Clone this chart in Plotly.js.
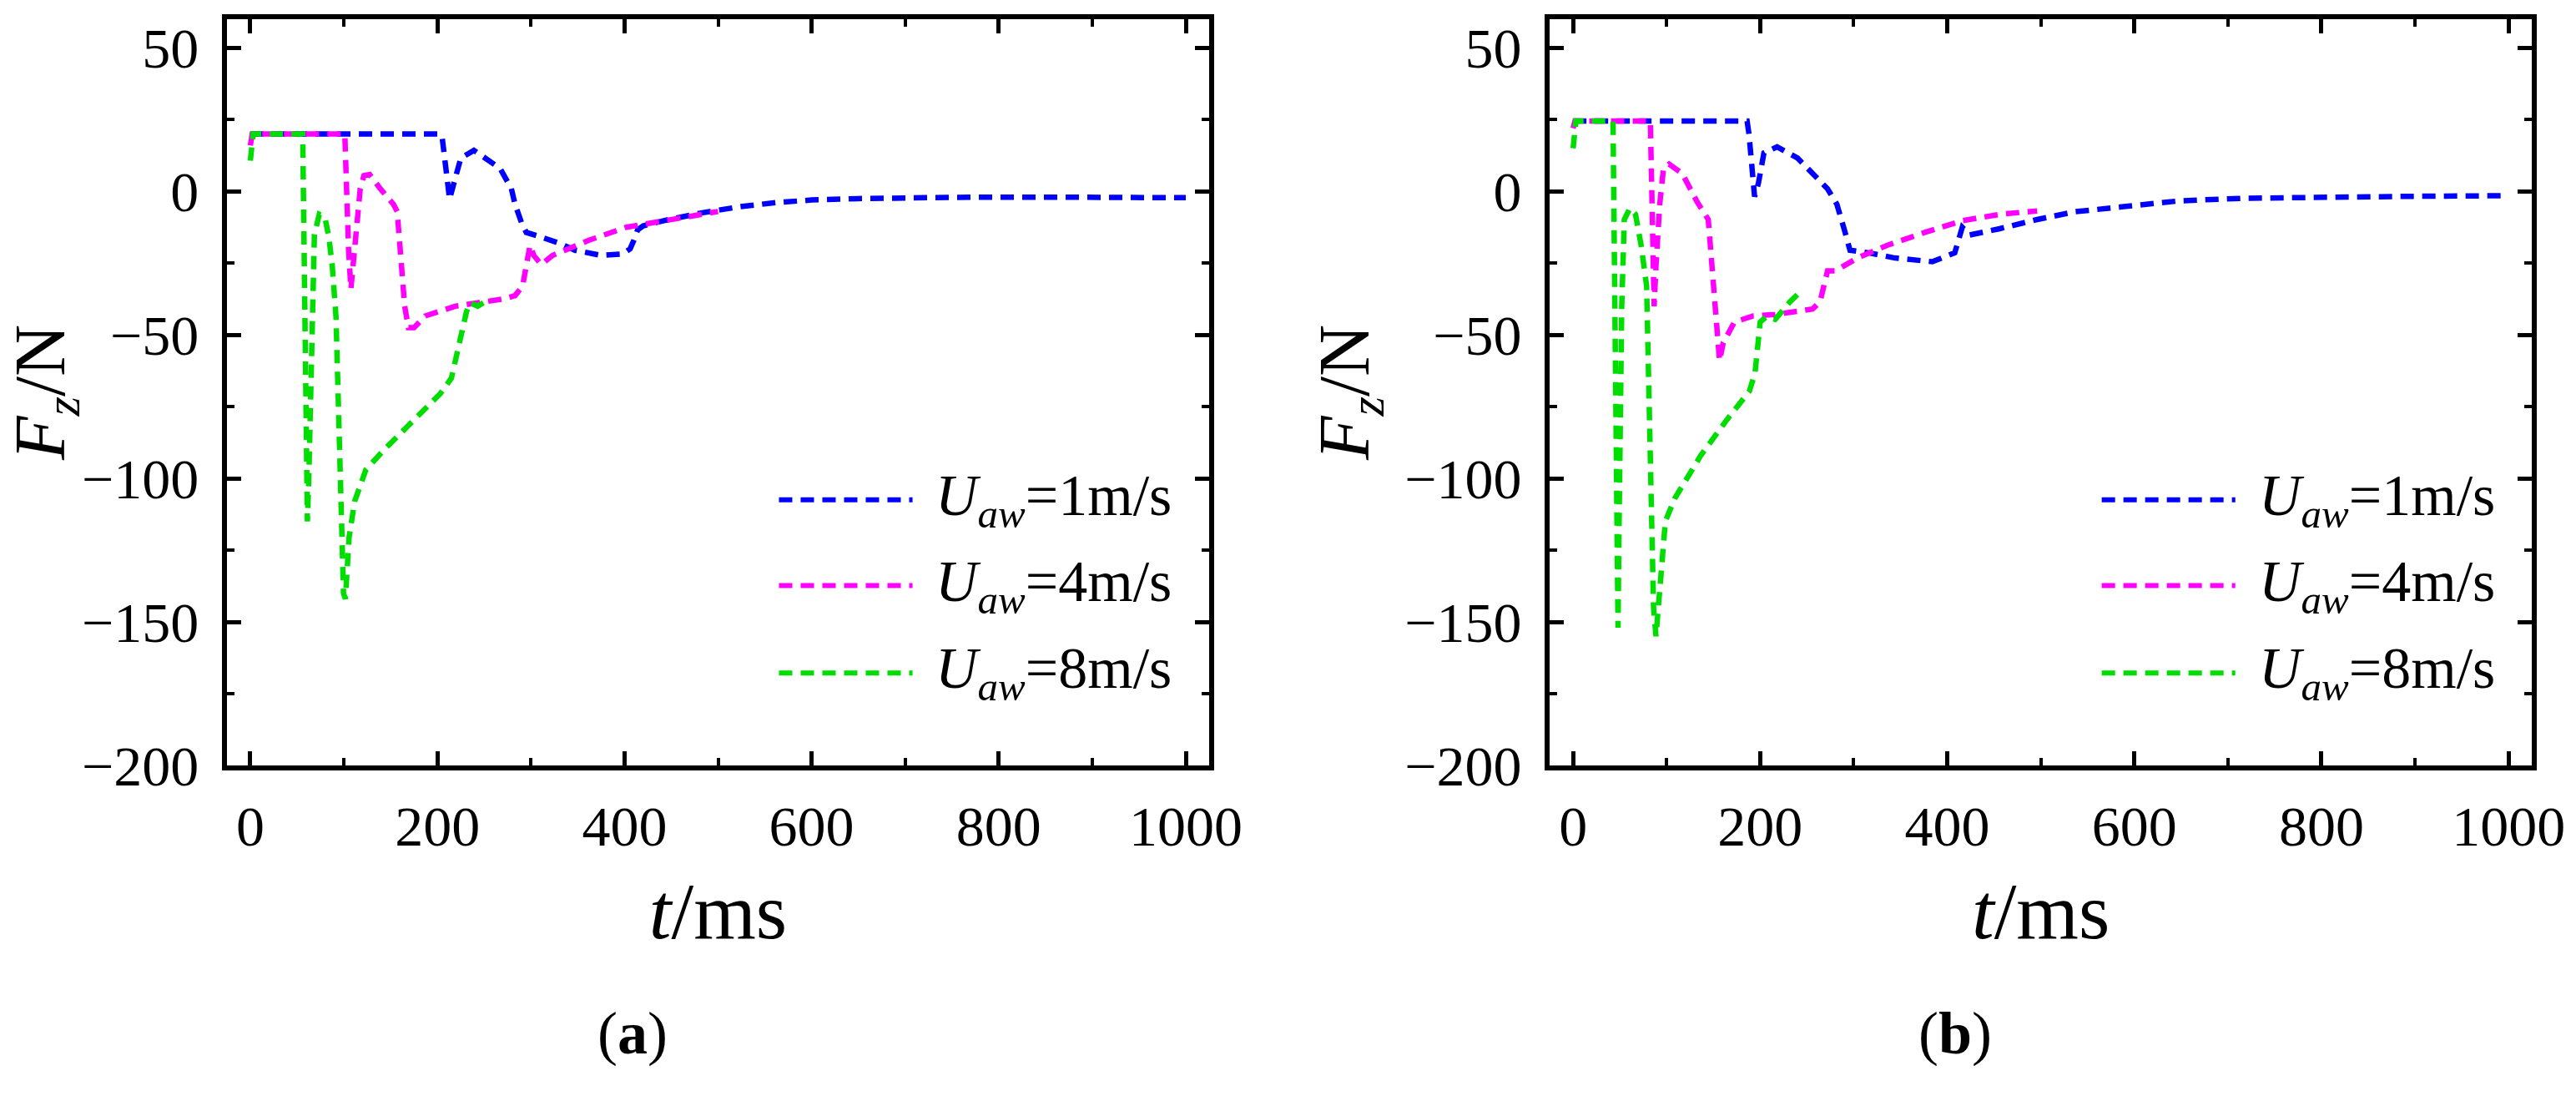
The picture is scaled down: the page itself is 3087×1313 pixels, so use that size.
<!DOCTYPE html>
<html>
<head>
<meta charset="utf-8">
<script src="https://cdn.plot.ly/plotly-3.0.1.min.js"></script>
<style>html,body{margin:0;padding:0;background:#fff;}#chart{width:3087px;height:1313px;}</style>
</head>
<body>
<div id="chart"></div>
<script>
// ---------- data ----------
const seriesNames = ['<i>U</i><sub><i>aw</i></sub>=1m/s', '<i>U</i><sub><i>aw</i></sub>=4m/s', '<i>U</i><sub><i>aw</i></sub>=8m/s'];
const seriesColors = ['#0000ff', '#ff00ff', '#00dd00'];
const panelLabels = ['(<b>a</b>)', '(<b>b</b>)'];
const xTitle = '<i>t</i>/ms';
const yTitle = '<i>F</i><sub><i>z</i></sub>/N';

// panel (a)
const tA1 = [0, 203, 205, 207, 211, 213, 219, 225, 239, 255, 267, 279, 283, 290, 295, 307, 330, 347, 375, 398, 406, 410, 414, 420, 442, 482, 522, 562, 600, 650, 700, 774, 850, 1000];
const fA1 = [20, 20, 19, 13, 2, -2.7, 4.5, 11.6, 14.3, 11, 8, 1, -4.5, -11, -14.3, -15.5, -18, -20.5, -22.3, -21.8, -20, -17, -13.4, -12, -10.2, -7.5, -5.4, -3.9, -3, -2.5, -2.2, -2, -2, -2.2];
const tA4 = [0, 2, 101, 103, 105, 107.5, 109.5, 113.5, 117.5, 121.5, 127.5, 139, 153, 157, 161, 165, 169, 175, 187, 219, 243, 270, 283, 291, 299, 303, 311, 323, 343, 362, 402, 442, 478, 500];
const fA4 = [16, 20, 20, -5, -20, -34, -26, -12, 1, 5.5, 5.9, 0.9, -4.5, -7, -22, -40, -47.5, -47.5, -43.4, -40, -38.8, -37.5, -36.3, -33, -18.8, -22.3, -25.5, -22.3, -19.6, -17, -12.5, -10.2, -8, -7];
const tA8 = [0, 3, 56, 58, 60, 61, 62.5, 64, 66, 68.5, 73.7, 79.7, 84, 87.6, 91.6, 95.6, 99.6, 101.6, 105.6, 111.5, 123.5, 143, 171, 203, 215, 225, 231, 235, 243, 251];
const fA8 = [10.7, 20, 20, -40, -90, -115, -100, -76, -40, -15, -8, -9, -16, -26, -43.8, -84.8, -140, -142, -120.5, -108, -97, -90, -81, -70.5, -65, -51, -42, -38.8, -40, -38.4];

// panel (b)
const tB1 = [0, 186, 188, 190, 194, 198, 204, 218, 240, 272, 282, 290, 296, 316, 344, 384, 408, 416, 424, 456, 496, 536, 576, 603, 648, 715, 815, 900, 1000];
const fB1 = [24.5, 24.5, 20, 13, -1.8, 2.7, 13.4, 15.5, 11.6, 0.9, -4.5, -13.4, -20.5, -21.4, -23.2, -24.5, -21.4, -12.5, -15.2, -13, -9.8, -7.1, -5.9, -5, -3.3, -2.4, -1.9, -1.7, -1.5];
const tB4 = [0, 2, 82.6, 84.6, 86.6, 88.6, 92.6, 96.6, 102.6, 116.6, 132.5, 144.5, 150.5, 154.5, 156.5, 160.5, 172.5, 192.5, 216, 256, 264, 272, 280, 304, 336, 376, 416, 456, 496];
const fB4 = [22, 24.5, 24.5, -13.4, -40, -26, -4.5, 8, 9.5, 6.25, -3.6, -9.8, -33, -51, -59, -52.7, -45.5, -43.4, -42.9, -41, -38.4, -27.7, -27.7, -23.2, -18.75, -14.3, -10.2, -8, -6.8];
const tB8 = [0, 3, 42.7, 44, 45.5, 47, 48, 49, 50, 52, 54.7, 60.7, 66.7, 72.7, 78.6, 80, 81.4, 83.8, 86, 88.6, 92.6, 98.6, 108.6, 136.5, 164.5, 188.4, 194.4, 200, 206, 216, 232, 246];
const fB8 = [15, 24.5, 24.5, -20, -58, -110, -152, -120, -94, -40, -9.8, -5.9, -8, -18.75, -33, -55, -76, -120.5, -145, -155, -138, -115, -107, -92, -79.5, -69.6, -63.4, -45.5, -43.8, -44.6, -38.4, -34];

// ---------- build ----------
const panels = [
  {xa: 'x', ya: 'y', series: [[tA1, fA1], [tA4, fA4], [tA8, fA8]]},
  {xa: 'x2', ya: 'y2', series: [[tB1, fB1], [tB4, fB4], [tB8, fB8]]}
];
const DASH = '16px,10px';
const FONT = 'Liberation Serif, Times New Roman, serif';

const traces = [];
panels.forEach(p => {
  p.series.forEach((s, i) => {
    traces.push({
      type: 'scatter', mode: 'lines', x: s[0], y: s[1],
      xaxis: p.xa, yaxis: p.ya, name: seriesNames[i], showlegend: false,
      line: {color: seriesColors[i], width: 6.5, dash: DASH}
    });
  });
});

function xAxis(domain, anchor) {
  return {
    domain: domain, anchor: anchor, range: [-25, 1025], tick0: 0, dtick: 200,
    ticks: 'inside', ticklen: 17, tickwidth: 5, tickcolor: '#000',
    minor: {dtick: 100, ticks: 'inside', ticklen: 9, tickwidth: 4, tickcolor: '#000'},
    showline: true, linewidth: 6, linecolor: '#000', mirror: 'allticks',
    showgrid: false, zeroline: false, automargin: false,
    tickfont: {family: FONT, size: 68, color: '#000'}, ticklabelstandoff: 8,
    title: {text: xTitle, font: {family: FONT, size: 96, color: '#000'}, standoff: 32}
  };
}
function yAxis(domain, anchor) {
  return {
    domain: domain, anchor: anchor, range: [-200, 60], tick0: 0, dtick: 50,
    ticks: 'inside', ticklen: 17, tickwidth: 5, tickcolor: '#000',
    minor: {dtick: 25, ticks: 'inside', ticklen: 9, tickwidth: 4, tickcolor: '#000'},
    showline: true, linewidth: 6, linecolor: '#000', mirror: 'allticks',
    showgrid: false, zeroline: false, automargin: false,
    tickfont: {family: FONT, size: 68, color: '#000'}, ticklabelstandoff: 14,
    title: {text: yTitle, font: {family: FONT, size: 86, color: '#000'}, standoff: 16}
  };
}

const yDom = [0.3016, 0.9825];
const shapes = [];
const annotations = [];
const legendRows = [0.356, 0.241, 0.124];
[['x', 'y'], ['x2', 'y2']].forEach((ax, k) => {
  seriesNames.forEach((nm, i) => {
    shapes.push({
      type: 'line', xref: ax[0] + ' domain', yref: ax[1] + ' domain',
      x0: 0.562, x1: 0.698, y0: legendRows[i], y1: legendRows[i],
      line: {color: seriesColors[i], width: 6, dash: DASH}
    });
    annotations.push({
      xref: ax[0] + ' domain', yref: ax[1] + ' domain', x: 0.72, y: legendRows[i],
      xanchor: 'left', yanchor: 'middle', showarrow: false, text: nm,
      font: {family: FONT, size: 70, color: '#000'}
    });
  });
  annotations.push({
    xref: ax[0] + ' domain', yref: 'paper', x: 0.413, y: 0.057,
    xanchor: 'center', yanchor: 'middle', showarrow: false, text: panelLabels[k],
    font: {family: FONT, size: 72, color: '#000'}
  });
});

const layout = {
  width: 3087, height: 1313,
  margin: {l: 0, r: 0, t: 0, b: 0},
  paper_bgcolor: '#fff', plot_bgcolor: '#fff',
  showlegend: false,
  xaxis: xAxis([0.0881, 0.4694], 'y'),
  yaxis: yAxis(yDom, 'x'),
  xaxis2: xAxis([0.6016, 0.9829], 'y2'),
  yaxis2: yAxis(yDom, 'x2'),
  shapes: shapes,
  annotations: annotations
};

Plotly.newPlot('chart', traces, layout, {staticPlot: true, displayModeBar: false});
</script>
</body>
</html>
